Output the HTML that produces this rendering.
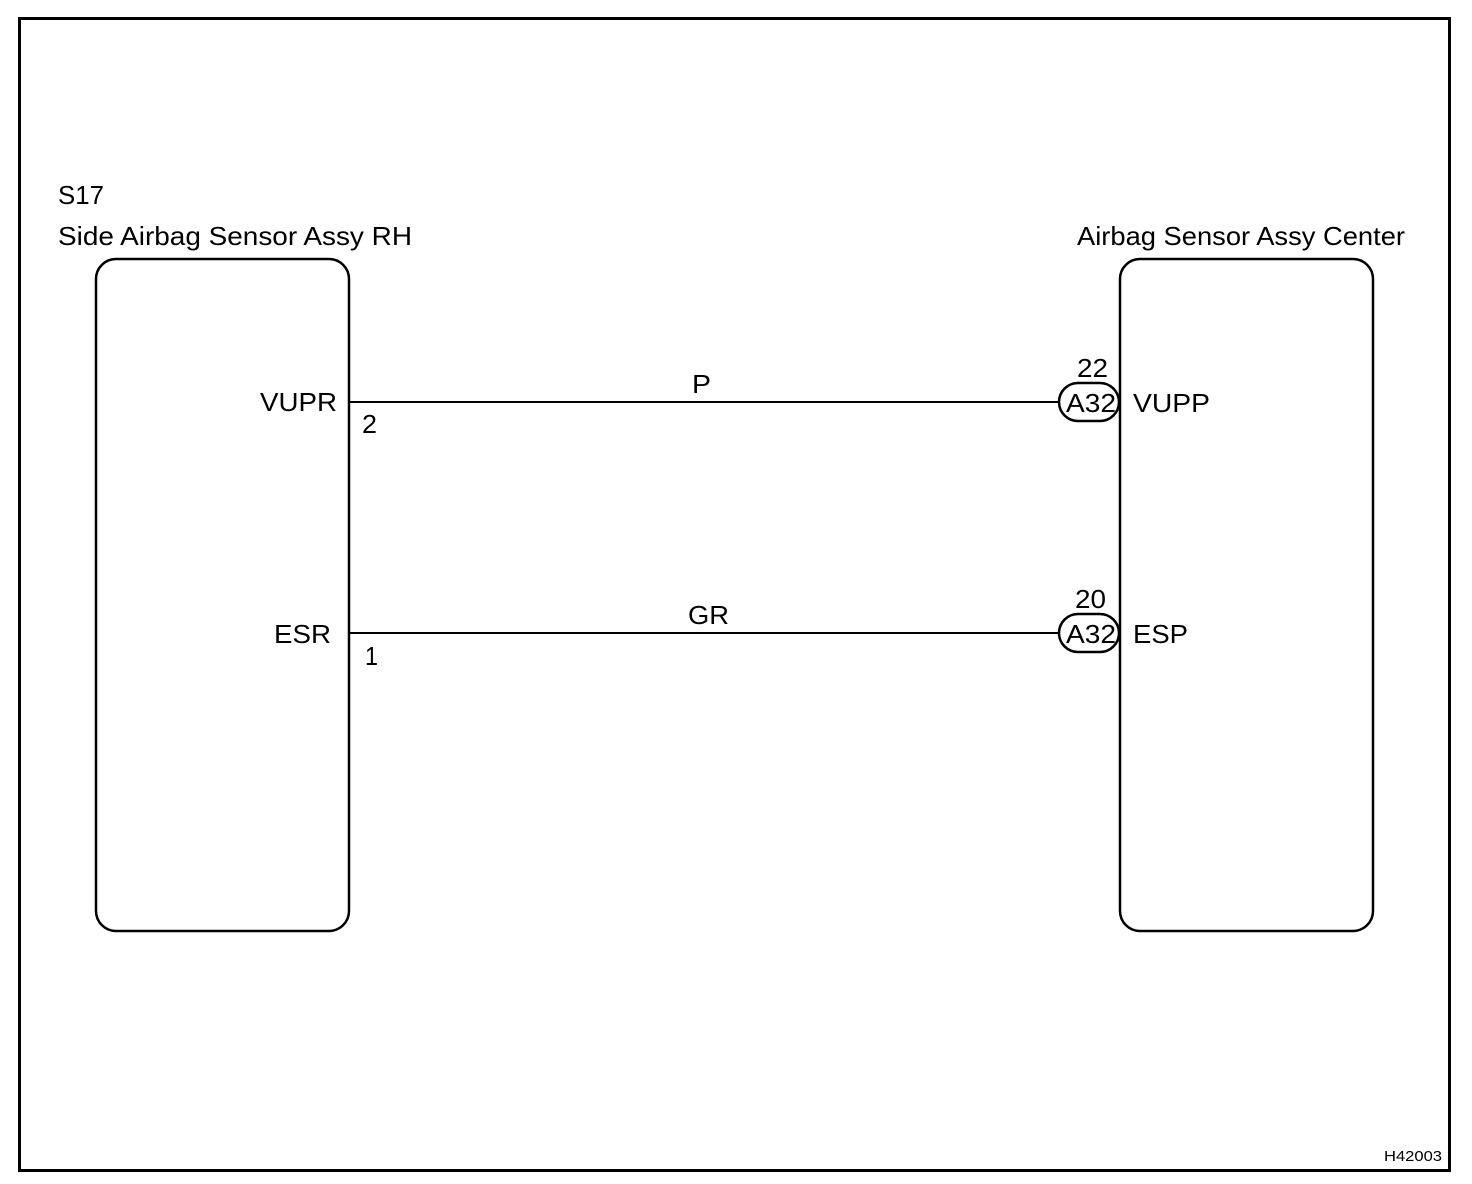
<!DOCTYPE html>
<html><head><style>
html,body{margin:0;padding:0;background:#fff;}
svg{display:block;}
text{font-family:"Liberation Sans",Arial,sans-serif;fill:#000;}
</style></head><body>
<svg width="1472" height="1184" viewBox="0 0 1472 1184">
<rect x="19.5" y="18.5" width="1430" height="1152" fill="none" stroke="#000" stroke-width="3"/>
<rect x="96" y="259" width="253" height="672" rx="20" fill="none" stroke="#000" stroke-width="2.5"/>
<rect x="1120" y="259" width="253" height="672" rx="20" fill="none" stroke="#000" stroke-width="2.5"/>
<line x1="349" y1="402" x2="1060" y2="402" stroke="#000" stroke-width="2"/>
<line x1="349" y1="633" x2="1060" y2="633" stroke="#000" stroke-width="2"/>
<rect x="1059" y="383" width="60" height="38" rx="19" fill="#fff" stroke="#000" stroke-width="2.5"/>
<rect x="1059" y="614" width="60" height="38" rx="19" fill="#fff" stroke="#000" stroke-width="2.5"/>
<g font-size="26" lengthAdjust="spacingAndGlyphs">
<text x="58" y="204" textLength="46" lengthAdjust="spacingAndGlyphs">S17</text>
<text x="58" y="245" textLength="354" lengthAdjust="spacingAndGlyphs">Side Airbag Sensor Assy RH</text>
<text x="1077" y="245" textLength="328" lengthAdjust="spacingAndGlyphs">Airbag Sensor Assy Center</text>
<text x="260" y="411" textLength="77" lengthAdjust="spacingAndGlyphs">VUPR</text>
<text x="362" y="433" textLength="15" lengthAdjust="spacingAndGlyphs">2</text>
<text x="274" y="643" textLength="57" lengthAdjust="spacingAndGlyphs">ESR</text>
<text x="365" y="665" textLength="13" lengthAdjust="spacingAndGlyphs">1</text>
<text x="692" y="393" textLength="19" lengthAdjust="spacingAndGlyphs">P</text>
<text x="688" y="624" textLength="41" lengthAdjust="spacingAndGlyphs">GR</text>
<text x="1077" y="377" textLength="31" lengthAdjust="spacingAndGlyphs">22</text>
<text x="1075" y="608" textLength="31" lengthAdjust="spacingAndGlyphs">20</text>
<text x="1066" y="412" textLength="50" lengthAdjust="spacingAndGlyphs">A32</text>
<text x="1066" y="643" textLength="50" lengthAdjust="spacingAndGlyphs">A32</text>
<text x="1133" y="412" textLength="77" lengthAdjust="spacingAndGlyphs">VUPP</text>
<text x="1133" y="643" textLength="55" lengthAdjust="spacingAndGlyphs">ESP</text>
</g>
<text x="1384" y="1161" font-size="15" textLength="58" lengthAdjust="spacingAndGlyphs">H42003</text>
</svg>
</body></html>
